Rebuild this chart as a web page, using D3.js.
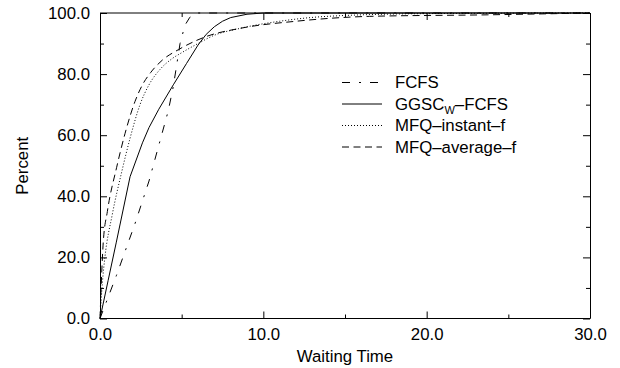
<!DOCTYPE html>
<html><head><meta charset="utf-8">
<script src="https://cdn.jsdelivr.net/npm/d3@7"></script>
<style>
body{margin:0;background:#fff;}
svg{display:block;font-family:"Liberation Sans",Arial,Helvetica,sans-serif;}
</style></head>
<body><svg id="c" width="620" height="368"></svg>
<script>
// ---- data ----
const xTicks = [0, 10, 20, 30];
const xMinor = [5, 15, 25];
const yTicks = [0, 20, 40, 60, 80, 100];
const yMinor = [10, 30, 50, 70, 90];

const fcfsTime = [0, 1.0, 2.14, 3.0, 4.18, 4.49, 4.9, 5.2, 5.5, 5.9, 30];
const fcfsPct  = [0, 14, 31, 45, 68, 76, 90, 96, 98.6, 100, 100];

const ggscTime = [0, 0.5, 1.0, 1.84, 2.6, 3.0, 3.6, 4.49, 5.3, 6.0, 6.5, 7.0, 7.5, 8.0, 9.0, 10.0, 30];
const ggscPct  = [0, 12.5, 25, 46.4, 57.5, 62.5, 68.5, 76.5, 83.5, 89.5, 93, 95.5, 97.3, 98.5, 99.6, 100, 100];

const instTime = [0, 0.15, 0.3, 0.75, 1.33, 1.84, 2.45, 3.0, 3.67, 4.4, 5.0, 6.0, 6.9, 8.6, 11.0, 13.9, 20.0, 30];
const instPct  = [0, 12, 20, 34, 48, 59, 70, 76.5, 81.5, 85, 87, 90, 92.5, 95, 97.3, 98.9, 99.8, 100];

const avgTime = [0, 0.2, 0.45, 1.02, 1.53, 2.14, 2.6, 3.1, 3.8, 4.8, 5.9, 6.5, 8.6, 12.0, 16.5, 23.7, 28.0, 30];
const avgPct  = [0, 25, 35, 49.5, 60.5, 71, 76.5, 80.5, 84.5, 88, 91, 92.3, 95, 97.3, 98.9, 99.4, 99.8, 100];

const seriesNames = ["FCFS", "GGSC", "MFQ\u2013instant\u2013f", "MFQ\u2013average\u2013f"];
const seriesDash = ["8,9,2,9", null, "1,2", "7,4.5"];

// ---- layout ----
const svg = d3.select("#c");
const X0 = 100, X1 = 590, Y0 = 318.5, Y1 = 13;
const x = d3.scaleLinear().domain([0, 30]).range([X0, X1]);
const y = d3.scaleLinear().domain([0, 100]).range([Y0, Y1]);
const FS = 16.8;
const fmt = d3.format(".1f");

// curves
const series = [
  {t: fcfsTime, p: fcfsPct, c: d3.curveLinear},
  {t: ggscTime, p: ggscPct, c: d3.curveLinear},
  {t: instTime, p: instPct, c: d3.curveMonotoneX},
  {t: avgTime, p: avgPct, c: d3.curveMonotoneX}
];
series.forEach((s, i) => {
  const line = d3.line().x(d => x(d[0])).y(d => y(d[1])).curve(s.c);
  const pts = s.t.map((t, j) => [t, s.p[j]]);
  svg.append("path").attr("d", line(pts)).attr("fill", "none")
    .attr("stroke", "#000").attr("stroke-width", 1)
    .attr("stroke-dasharray", seriesDash[i]);
});

// axes
function styleAxis(g) {
  g.select(".domain").remove();
  g.selectAll("line").attr("stroke", "#000");
  g.selectAll("text").attr("font-size", FS).attr("fill", "#000").attr("font-family", "Liberation Sans, Arial, sans-serif");
}
svg.append("g").attr("transform", `translate(0,${Y0})`)
  .call(d3.axisBottom(x).tickValues(xTicks).tickFormat(fmt).tickSize(-7).tickPadding(10))
  .call(styleAxis);
svg.append("g").attr("transform", `translate(0,${Y0})`)
  .call(d3.axisBottom(x).tickValues(xMinor).tickFormat("").tickSize(-4))
  .call(styleAxis);
svg.append("g").attr("transform", `translate(0,${Y1})`)
  .call(d3.axisTop(x).tickValues(xTicks).tickFormat("").tickSize(-7))
  .call(styleAxis);
svg.append("g").attr("transform", `translate(0,${Y1})`)
  .call(d3.axisTop(x).tickValues(xMinor).tickFormat("").tickSize(-4))
  .call(styleAxis);
svg.append("g").attr("transform", `translate(${X0},0)`)
  .call(d3.axisLeft(y).tickValues(yTicks).tickFormat(fmt).tickSize(-7).tickPadding(10))
  .call(styleAxis);
svg.append("g").attr("transform", `translate(${X0},0)`)
  .call(d3.axisLeft(y).tickValues(yMinor).tickFormat("").tickSize(-4))
  .call(styleAxis);
svg.append("g").attr("transform", `translate(${X1},0)`)
  .call(d3.axisRight(y).tickValues(yTicks).tickFormat("").tickSize(-7))
  .call(styleAxis);
svg.append("g").attr("transform", `translate(${X1},0)`)
  .call(d3.axisRight(y).tickValues(yMinor).tickFormat("").tickSize(-4))
  .call(styleAxis);

// frame
svg.append("line").attr("x1", X0).attr("x2", X1).attr("y1", Y0).attr("y2", Y0).attr("stroke", "#000");
svg.append("line").attr("x1", X0).attr("x2", X1).attr("y1", Y1).attr("y2", Y1).attr("stroke", "#000");
svg.append("line").attr("x1", X0 + 0.5).attr("x2", X0 + 0.5).attr("y1", Y1).attr("y2", Y0).attr("stroke", "#000");
svg.append("line").attr("x1", X1 + 0.5).attr("x2", X1 + 0.5).attr("y1", Y1).attr("y2", Y0).attr("stroke", "#000");

// axis titles
svg.append("text").attr("x", (X0 + X1) / 2).attr("y", 362).attr("text-anchor", "middle")
  .attr("font-size", FS).text("Waiting Time");
svg.append("text").attr("transform", `translate(28,${(Y0 + Y1) / 2}) rotate(-90)`)
  .attr("text-anchor", "middle").attr("font-size", FS).text("Percent");

// legend
const lgX0 = 342, lgX1 = 382, lgTx = 395, lgBase = 88, lgStep = 21.5;
seriesNames.forEach((name, i) => {
  const by = lgBase + i * lgStep;
  svg.append("line").attr("x1", lgX0).attr("x2", lgX1).attr("y1", by - 5.5).attr("y2", by - 5.5)
    .attr("stroke", "#000").attr("stroke-width", 1).attr("stroke-dasharray", seriesDash[i]);
  const t = svg.append("text").attr("x", lgTx).attr("y", by).attr("font-size", FS);
  if (i === 1) {
    t.append("tspan").text("GGSC");
    t.append("tspan").attr("font-size", 11).attr("dy", 4).text("W");
    t.append("tspan").attr("dy", -4).text("\u2013FCFS");
  } else {
    t.text(name);
  }
});
</script>
</body></html>
